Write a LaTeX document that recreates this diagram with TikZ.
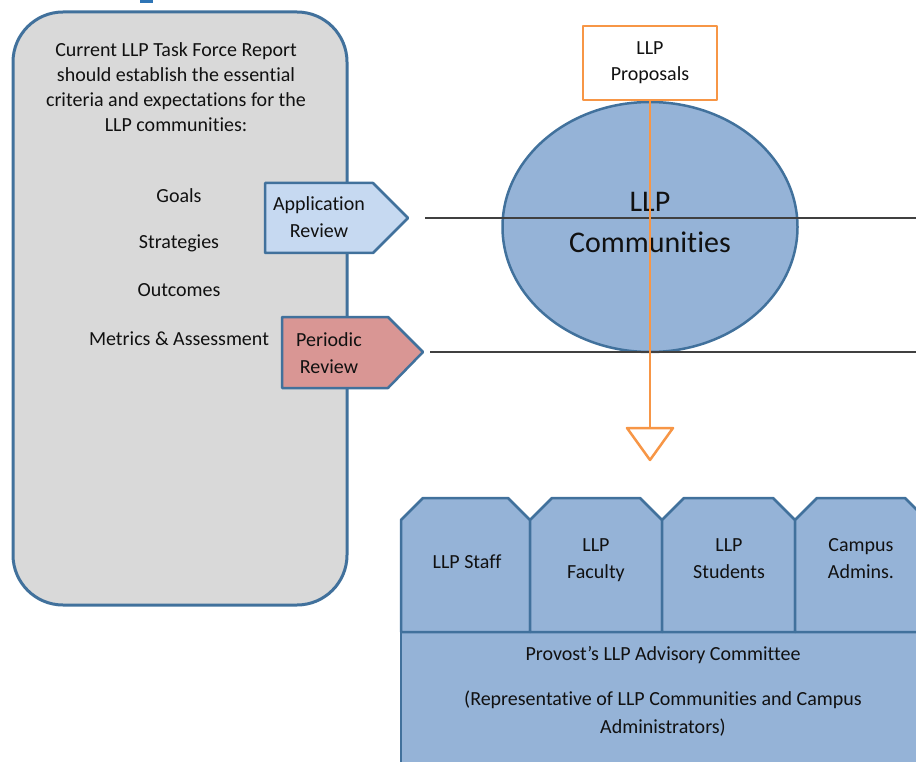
\documentclass[tikz,border=0pt]{standalone}
\usepackage{fontspec}
\setmainfont[Ligatures=NoCommon]{Carlito}
\usetikzlibrary{shapes.geometric}
\definecolor{bord}{HTML}{41719C}
\definecolor{graybg}{HTML}{D9D9D9}
\definecolor{appfill}{HTML}{C6D9F1}
\definecolor{perfill}{HTML}{D99694}
\definecolor{midblue}{HTML}{95B3D7}
\definecolor{orng}{HTML}{F79646}
\definecolor{lineg}{HTML}{404040}
\definecolor{linkblue}{HTML}{2E75B6}
\definecolor{txtc}{HTML}{111111}
\tikzset{
  txt/.style={anchor=base, inner sep=0pt, text=txtc, font=\fontsize{20}{25}\selectfont},
  bigtxt/.style={anchor=base, inner sep=0pt, text=txtc, font=\fontsize{30}{36}\selectfont},
  shapeline/.style={draw=bord, line width=2.5pt, line join=round},
  hline/.style={draw=lineg, line width=2pt},
  orline/.style={draw=orng, line width=2.5pt, line join=round}
}
\begin{document}
\begin{tikzpicture}[x=1pt,y=-1pt]
\useasboundingbox (0,0) rectangle (916,762);
\clip (0,0) rectangle (916,762);
% hyperlink fragment
\fill[linkblue] (140,0) rectangle (153,3.5);
% left box
\node[shapeline, line width=3pt, fill=graybg, rounded corners=50pt, minimum width=334pt, minimum height=593pt, inner sep=0pt] (report) at (180,308.5) {};
\node[txt] (r1) at (176,57) {Current LLP Task Force Report};
\node[txt] (r2) at (176,82) {should establish the essential};
\node[txt] (r3) at (176,107) {criteria and expectations for the};
\node[txt] (r4) at (176,132) {LLP communities:};
\node[txt] (g1) at (179,203) {Goals};
\node[txt] (g2) at (179,249) {Strategies};
\node[txt] (g3) at (179,296) {Outcomes};
\node[txt] (g4) at (179,345) {Metrics \& Assessment};
% review pentagons
\draw[shapeline, fill=appfill] (265,183) -- (373,183) -- (408,218) -- (373,253) -- (265,253) -- cycle;
\node[txt] (app1) at (319,211) {Application};
\node[txt] (app2) at (319,238) {Review};
\draw[shapeline, fill=perfill] (282,317) -- (388,317) -- (423,352) -- (388,388) -- (282,388) -- cycle;
\node[txt] (per1) at (329,346) {Periodic};
\node[txt] (per2) at (329,373) {Review};
% ellipse
\node[ellipse, shapeline, fill=midblue, minimum width=295pt, minimum height=250pt, inner sep=0pt] (comm) at (650,227) {};
\node[bigtxt] (c1) at (650,212) {LLP};
\node[bigtxt] (c2) at (650,253) {Communities};
% horizontal lines
\coordinate (l1a) at (425,218);
\coordinate (l1b) at (916,218);
\coordinate (l2a) at (430,352);
\coordinate (l2b) at (916,352);
\draw[hline] (l1a) -- (l1b);
\draw[hline] (l2a) -- (l2b);
% proposals
\node[orline, fill=white, minimum width=134pt, minimum height=74pt, inner sep=0pt] (prop) at (650,63) {};
\node[txt] (p1) at (650,55) {LLP};
\node[txt] (p2) at (650,81) {Proposals};
\coordinate (tri) at (650,428);
\draw[orline] (prop.south) -- (tri);
\draw[orline, fill=white] (627,428) -- (673,428) -- (650,460) -- cycle;
% committee
\draw[shapeline, fill=midblue] (401,632) rectangle (930,775);
\foreach \a/\b in {401/530, 530/662, 662/795, 795/927}{
  \draw[shapeline, fill=midblue] (\a,632) -- (\a,520) -- (\a+22,498) -- (\b-22,498) -- (\b,520) -- (\b,632) -- cycle;
}
\node[txt] (s1) at (467,568) {LLP Staff};
\node[txt] (f1) at (596,551) {LLP};
\node[txt] (f2) at (596,578) {Faculty};
\node[txt] (st1) at (729,551) {LLP};
\node[txt] (st2) at (729,578) {Students};
\node[txt] (ca1) at (861,551) {Campus};
\node[txt] (ca2) at (861,578) {Admins.};
\node[txt] (pc1) at (663,660) {Provost’s LLP Advisory Committee};
\node[txt] (pc2) at (663,705) {(Representative of LLP Communities and Campus};
\node[txt] (pc3) at (663,733) {Administrators)};
\end{tikzpicture}
\end{document}
